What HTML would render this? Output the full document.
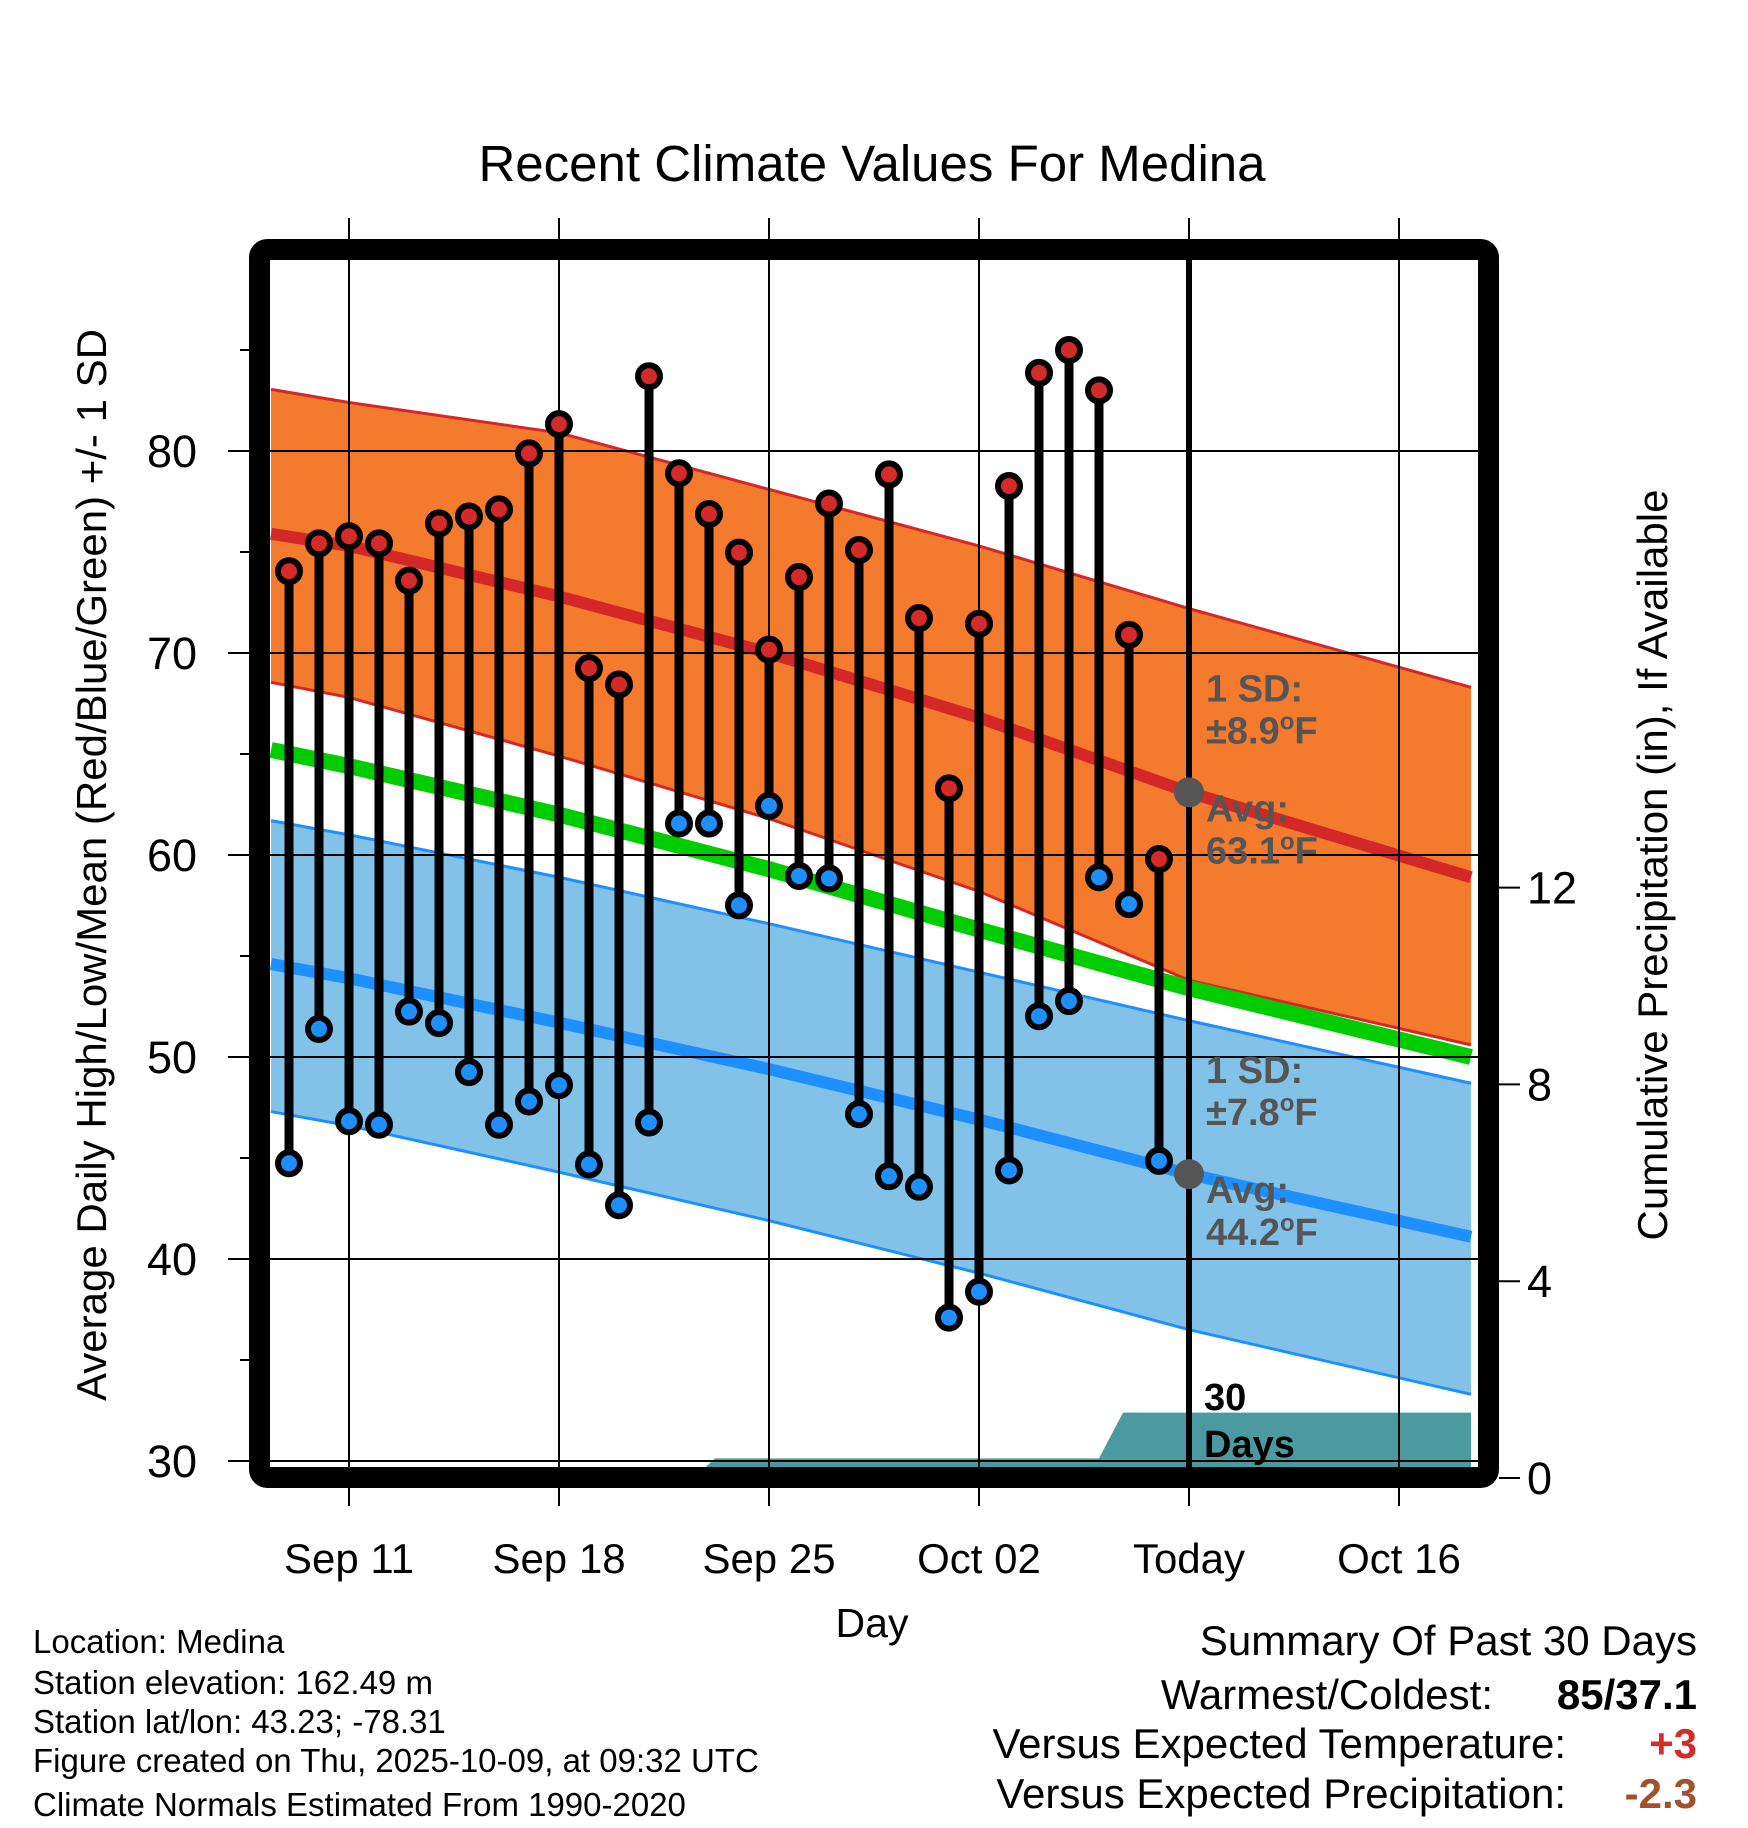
<!DOCTYPE html>
<html><head><meta charset="utf-8"><style>
html,body{margin:0;padding:0;background:#fff;}
svg{display:block;font-family:"Liberation Sans",Arial,sans-serif;}
</style></head><body>
<svg id="chart" width="1748" height="1828" viewBox="0 0 1748 1828" xmlns="http://www.w3.org/2000/svg">
<g id="bands"></g>
<g id="grid"></g>
<g id="marks"></g>
<g id="axes"></g>
<g id="texts">
<text x="872" y="181" font-size="51" text-anchor="middle">Recent Climate Values For Medina</text>
<text transform="translate(106,865) rotate(-90)" font-size="42" text-anchor="middle">Average Daily High/Low/Mean (Red/Blue/Green) +/- 1 SD</text>
<text transform="translate(1667,865) rotate(-90)" font-size="42" text-anchor="middle">Cumulative Precipitation (in), If Available</text>
<text x="872" y="1637" font-size="41" text-anchor="middle">Day</text>
<g font-size="33">
<text x="33" y="1653">Location: Medina</text>
<text x="33" y="1694">Station elevation: 162.49 m</text>
<text x="33" y="1733">Station lat/lon: 43.23; -78.31</text>
<text x="33" y="1772">Figure created on Thu, 2025-10-09, at 09:32 UTC</text>
<text x="33" y="1816">Climate Normals Estimated From 1990-2020</text>
</g>
<g font-size="42">
<text x="1697" y="1655" text-anchor="end">Summary Of Past 30 Days</text>
<text x="1493" y="1709" text-anchor="end">Warmest/Coldest:</text>
<text x="1697" y="1709" text-anchor="end" font-weight="bold">85/37.1</text>
<text x="1566" y="1758" text-anchor="end">Versus Expected Temperature:</text>
<text x="1697" y="1758" text-anchor="end" font-weight="bold" fill="#d42a2a">+3</text>
<text x="1566" y="1808" text-anchor="end">Versus Expected Precipitation:</text>
<text x="1697" y="1808" text-anchor="end" font-weight="bold" fill="#a0522d">-2.3</text>
</g>
</g>
</svg>
<script>
// ---- data ----
const dayOffsets = [-2,-1,0,1,2,3,4,5,6,7,8,9,10,11,12,13,14,15,16,17,18,19,20,21,22,23,24,25,26,27];
const highs = [74.05,75.43,75.78,75.43,73.58,76.42,76.76,77.11,79.88,81.33,69.25,68.44,83.7,78.9,76.88,74.97,70.17,73.76,77.4,75.1,78.84,71.73,63.3,71.45,78.27,83.87,85.0,83.0,70.9,59.8];
const lows = [44.74,51.39,46.82,46.65,52.25,51.68,49.25,46.65,47.8,48.61,44.68,42.66,46.76,61.56,61.56,57.51,62.43,58.96,58.84,47.17,44.1,43.58,37.1,38.38,44.39,52.02,52.77,58.9,57.57,44.86];
const normDays = [-2.6,0,7,14,21,28,37.4];
const hiUpper = [83.05,82.4,80.9,78.1,75.3,72.2,68.3];
const hiMean = [75.9,75.3,72.8,70.0,66.8,63.1,58.9];
const hiLower = [68.55,67.8,64.9,61.8,58.2,53.8,50.6];
const dailyMean = [65.2,64.4,62.0,59.3,56.3,53.4,50.0];
const loUpper = [61.7,61.0,58.9,56.6,54.2,51.8,48.7];
const loMean = [54.6,53.9,51.7,49.4,46.9,44.2,41.1];
const loLower = [47.3,46.6,44.3,41.9,39.3,36.5,33.3];
const precipDays = [-2.6,11.5,12.2,25.0,25.8,37.4];
const precipCum = [0,0,0.4,0.4,1.33,1.33];
const xTickDays = [0,7,14,21,28,35];
const xTickLabels = ["Sep 11","Sep 18","Sep 25","Oct 02","Today","Oct 16"];
const yTicks = [30,40,50,60,70,80];
const yMinor = [35,45,55,65,75,85];
const y2Ticks = [0,4,8,12];
const todayDay = 28;
const todayHigh = 63.1, todayLow = 44.2;

// ---- scales ----
const L=270,R=1478,T=260,B=1468;
const x = d => 349 + d*30;
const y = v => 451 + (80-v)*20.2;
const y2 = p => 1478 - p*49.2;
const NS="http://www.w3.org/2000/svg";
function mk(tag, parent, attrs){const e=document.createElementNS(NS,tag);for(const k in attrs)e.setAttribute(k,attrs[k]);parent.appendChild(e);return e;}
const pts = arr => arr.map((v,i)=>x(normDays[i])+","+y(v)).join(" ");
const band = (up,lo) => pts(up)+" "+lo.map((v,i)=>[x(normDays[i]),y(v)]).reverse().map(p=>p.join(",")).join(" ");

const bands=document.getElementById('bands');
let e;
e=mk('clipPath',bands,{id:'plotclip'}); mk('rect',e,{x:L,y:T,width:R-L,height:B-T});
const g=mk('g',bands,{'clip-path':'url(#plotclip)'});
e=mk('polygon',g,{points:band(hiUpper,hiLower),fill:'#f47a2e'});


e=mk('polyline',g,{points:pts(hiUpper),fill:'none',stroke:'#d42828','stroke-width':3});


e=mk('polyline',g,{points:pts(hiLower),fill:'none',stroke:'#d42828','stroke-width':3});


e=mk('polygon',g,{points:band(loUpper,loLower),fill:'#82c2e8'});


e=mk('polyline',g,{points:pts(loUpper),fill:'none',stroke:'#1e8fff','stroke-width':3});


e=mk('polyline',g,{points:pts(loLower),fill:'none',stroke:'#1e8fff','stroke-width':3});


e=mk('polyline',g,{points:pts(dailyMean),fill:'none',stroke:'#00cc00','stroke-width':16});


e=mk('polyline',g,{points:pts(hiMean),fill:'none',stroke:'#d42828','stroke-width':12});


e=mk('polyline',g,{points:pts(loMean),fill:'none',stroke:'#1e8fff','stroke-width':12});


let pp=precipDays.map((d,i)=>x(d)+","+y2(precipCum[i])).join(" ");
pp += " "+x(precipDays[precipDays.length-1])+","+B+" "+x(precipDays[0])+","+B;
e=mk('polygon',g,{points:pp,fill:'#4a9aa0'});



// grid
const grid=document.getElementById('grid');
xTickDays.forEach(d=>{
  e=mk('line',grid,{x1:x(d),x2:x(d),y1:218,y2:1506,stroke:'#000','stroke-width':2});
  
  
});
yTicks.forEach(v=>{
  e=mk('line',grid,{x1:228,x2:R,y1:y(v),y2:y(v),stroke:'#000','stroke-width':2});
  
  
});
yMinor.forEach(v=>{
  e=mk('line',grid,{x1:240,x2:249,y1:y(v),y2:y(v),stroke:'#000','stroke-width':2});
  
  
});
y2Ticks.forEach(p=>{
  e=mk('line',grid,{x1:1499,x2:1520,y1:y2(p),y2:y2(p),stroke:'#000','stroke-width':2});
  
  
});
e=mk('line',grid,{x1:x(todayDay),x2:x(todayDay),y1:T,y2:B,stroke:'#000','stroke-width':6});



// marks
const marks=document.getElementById('marks');
dayOffsets.forEach((d,i)=>{
  e=mk('line',marks,{x1:x(d),x2:x(d),y1:y(highs[i]),y2:y(lows[i]),stroke:'#000','stroke-width':9});
  
  
});
dayOffsets.forEach((d,i)=>{
  e=mk('circle',marks,{cx:x(d),cy:y(highs[i]),r:11,fill:'#d42a2a',stroke:'#000','stroke-width':6});
  
  
  e=mk('circle',marks,{cx:x(d),cy:y(lows[i]),r:11,fill:'#1e8fff',stroke:'#000','stroke-width':6});
  
  
});
e=mk('circle',marks,{cx:x(todayDay),cy:y(todayHigh),r:15,fill:'#555'});


e=mk('circle',marks,{cx:x(todayDay),cy:y(todayLow),r:15,fill:'#555'});



// annotation texts
function ann(txt, yy, name, deg){
  const t=mk('text',marks,{x:1206,y:yy,'font-size':38,'font-weight':'bold',fill:'#555'});
  
  
  if(deg){
    t.appendChild(document.createTextNode(txt));
    const s=mk('tspan',t,{'font-size':24,dy:-14}); s.textContent='o';
    const f=mk('tspan',t,{dy:14}); f.textContent='F';
  } else t.textContent=txt;
}
const yh=y(todayHigh), yl=y(todayLow);
ann('1 SD:',yh-91,'high-sd-label',false);
ann('\u00b18.9',yh-49,'high-sd-value',true);
ann('Avg:',yh+29,'high-avg-label',false);
ann(todayHigh.toFixed(1),yh+71,'high-avg-value',true);
ann('1 SD:',yl-91,'low-sd-label',false);
ann('\u00b17.8',yl-49,'low-sd-value',true);
ann('Avg:',yl+29,'low-avg-label',false);
ann(todayLow.toFixed(1),yl+71,'low-avg-value',true);
e=mk('text',marks,{x:1204,y:1410,'font-size':38,'font-weight':'bold'}); e.textContent='30';


e=mk('text',marks,{x:1204,y:1457,'font-size':38,'font-weight':'bold'}); e.textContent='Days';



// axes frame + labels
const axes=document.getElementById('axes');
e=mk('rect',axes,{x:259.5,y:249.5,width:1229,height:1228,rx:8,fill:'none',stroke:'#000','stroke-width':21});


yTicks.forEach(v=>{
  e=mk('text',axes,{x:197,y:y(v)+16,'font-size':45,'text-anchor':'end'}); e.textContent=v;
  
  
});
y2Ticks.forEach(p=>{
  e=mk('text',axes,{x:1527,y:y2(p)+16,'font-size':45}); e.textContent=p;
  
  
});
xTickDays.forEach((d,i)=>{
  e=mk('text',axes,{x:x(d),y:1573,'font-size':42,'text-anchor':'middle'}); e.textContent=xTickLabels[i];
  
  
});
</script>
</body></html>
